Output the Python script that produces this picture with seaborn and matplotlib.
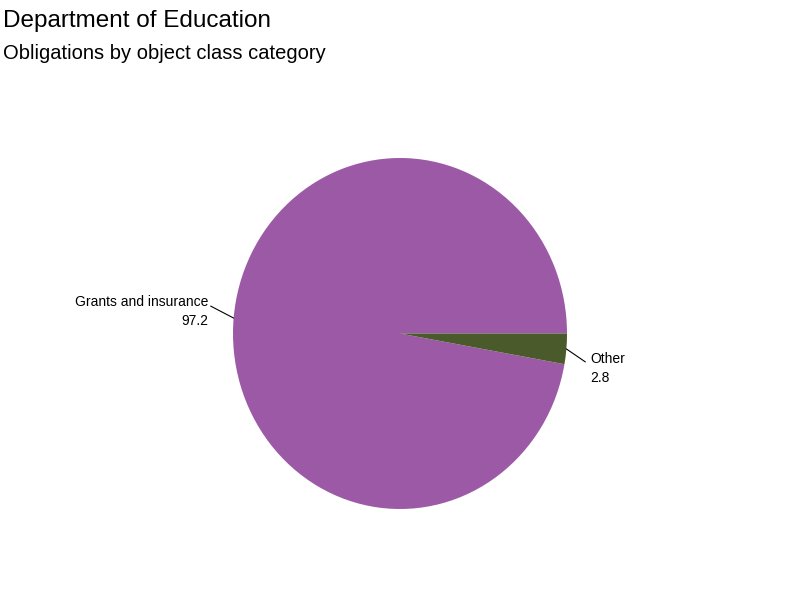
import numpy as np
import matplotlib
matplotlib.use('Agg')
import matplotlib.pyplot as plt
import seaborn as sns

sns.set_style('white')
plt.rcParams['font.family'] = ['Liberation Sans', 'DejaVu Sans']

# data
categories = ['Grants and insurance', 'Other']
shares = [97.2, 2.8]
colors = ['#9c5aa6', '#4a5a2a']

fig = plt.figure(figsize=(8, 6), dpi=100)
W, H = 800, 600

# pie slightly taller than wide, as in the reference
ax = fig.add_axes([233 / W, (H - 509) / H, 334 / W, 351 / H])
wedges, _ = ax.pie(shares, colors=colors, startangle=0, counterclock=True,
                   wedgeprops=dict(linewidth=0))
ax.set_aspect('auto')
ax.set_xlim(-1, 1)
ax.set_ylim(-1, 1)
ax.axis('off')

# label layout: (line end offset, text offset, alignment)
label_cfg = {
    'Grants and insurance': dict(line=(-23, 12), text=(-25, 23), ha='right'),
    'Other': dict(line=(19, -13), text=(24, -3), ha='left'),
}

for w, cat, val in zip(wedges, categories, shares):
    mid = np.deg2rad((w.theta1 + w.theta2) / 2)
    x, y = np.cos(mid), np.sin(mid)
    cfg = label_cfg[cat]
    ax.annotate('', xy=(x, y), xytext=cfg['line'], textcoords='offset pixels',
                arrowprops=dict(arrowstyle='-', color='black', lw=0.8,
                                shrinkA=0, shrinkB=0))
    ax.annotate(f'{cat}\n{val}', xy=(x, y), xytext=cfg['text'],
                textcoords='offset pixels', ha=cfg['ha'], va='top',
                fontsize=10, linespacing=1.45, color='black',
                annotation_clip=False)

fig.text(3 / W, 1 - 10 / H, 'Department of Education', fontsize=17.5,
         ha='left', va='top', color='black')
fig.text(3 / W, 1 - 44 / H, 'Obligations by object class category', fontsize=14.5,
         ha='left', va='top', color='black')

fig.savefig('out.png', dpi=100)
